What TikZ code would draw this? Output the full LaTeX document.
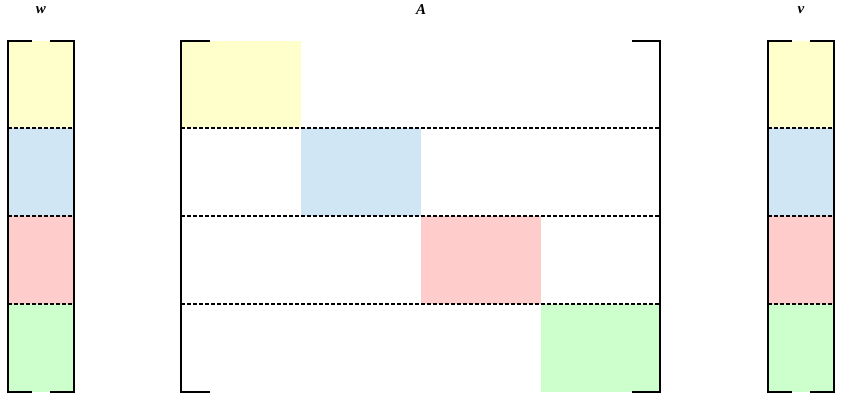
\documentclass[tikz,border=0pt]{standalone}
\usepackage{fontspec}
\newfontfamily\labfont{Liberation Serif}
\definecolor{cyel}{HTML}{FFFFCC}
\definecolor{cblu}{HTML}{D0E6F5}
\definecolor{cred}{HTML}{FFCCCC}
\definecolor{cgrn}{HTML}{CCFFCC}
\begin{document}
\begin{tikzpicture}[x=1pt,y=-1pt,
  brk/.style={line width=2.2pt,black},
  sep/.style={line width=1.3pt,dash pattern=on 4pt off 2pt,black},
  lab/.style={font=\labfont\bfseries\itshape\fontsize{15}{15}\selectfont,inner sep=0pt}]
\useasboundingbox (0,0) rectangle (859,403);
% w vector
\fill[cyel] (8,41) rectangle (74,128);
\fill[cblu] (8,128) rectangle (74,216);
\fill[cred] (8,216) rectangle (74,304);
\fill[cgrn] (8,304) rectangle (74,392);
\draw[sep] (8,128) -- (74,128) (8,216) -- (74,216) (8,304) -- (74,304);
\draw[brk] (32,41) -- (8,41) -- (8,392) -- (32,392);
\draw[brk] (50,41) -- (74,41) -- (74,392) -- (50,392);
\node[lab] (w) at (41,10) {w};
% v vector
\fill[cyel] (768,41) rectangle (834,128);
\fill[cblu] (768,128) rectangle (834,216);
\fill[cred] (768,216) rectangle (834,304);
\fill[cgrn] (768,304) rectangle (834,392);
\draw[sep] (768,128) -- (834,128) (768,216) -- (834,216) (768,304) -- (834,304);
\draw[brk] (792,41) -- (768,41) -- (768,392) -- (792,392);
\draw[brk] (810,41) -- (834,41) -- (834,392) -- (810,392);
\node[lab] (v) at (801,10) {v};
% matrix A
\fill[cyel] (181,41) rectangle (301,128);
\fill[cblu] (301,128) rectangle (421,216);
\fill[cred] (421,216) rectangle (541,304);
\fill[cgrn] (541,304) rectangle (660,392);
\draw[sep] (181,128) -- (660,128) (181,216) -- (660,216) (181,304) -- (660,304);
\draw[brk] (210,41) -- (181,41) -- (181,392) -- (210,392);
\draw[brk] (632,41) -- (660,41) -- (660,392) -- (632,392);
\node[lab] (A) at (421,10) {A};
\end{tikzpicture}
\end{document}
